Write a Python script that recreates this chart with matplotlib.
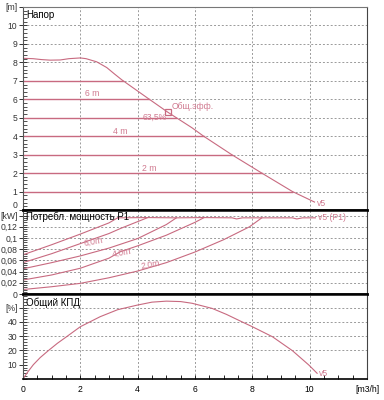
import numpy as np
import matplotlib
matplotlib.use("Agg")
import matplotlib.pyplot as plt
from matplotlib.ticker import FixedLocator, FixedFormatter, MultipleLocator

plt.rcParams['font.family'] = ['Liberation Sans', 'DejaVu Sans']

# head curve (Напор)
q_head = [0, 0.35, 0.65, 0.95, 1.3, 1.6, 2.0, 2.2, 2.57, 2.92, 3.2, 3.45, 3.95, 4.36, 5.05, 5.9, 6.3, 7.28, 8.33, 9.4, 10.17]
h_head = [8.22, 8.2, 8.15, 8.12, 8.13, 8.2, 8.24, 8.2, 8.03, 7.72, 7.36, 7.05, 6.5, 6.05, 5.3, 4.45, 4.0, 3.0, 2.0, 1.0, 0.43]
cp_heads = [1, 2, 3, 4, 5, 6, 7]
cp_labels = {"6 m": (2.4, 6.3), "4 m": (3.4, 4.25), "2 m": (4.4, 2.27)}
best_q, best_h = 5.05, 5.3

# power P1 curves
p_lines = [
    ([0, 1, 2, 3, 3.3], [0.070, 0.088, 0.107, 0.127, 0.136]),
    ([0, 1, 2, 3, 3.4, 4.33], [0.056, 0.072, 0.090, 0.108, 0.117, 0.136]),
    ([0, 1, 2, 3, 4, 5, 5.35], [0.045, 0.056, 0.068, 0.082, 0.099, 0.124, 0.136]),
    ([0, 1, 2, 3, 3.4, 4, 5, 6, 6.3], [0.025, 0.034, 0.046, 0.064, 0.0756, 0.086, 0.105, 0.128, 0.136]),
    ([0, 1, 2, 3, 4, 5, 6, 7, 7.9, 8.33], [0.008, 0.013, 0.019, 0.029, 0.041, 0.056, 0.075, 0.097, 0.12, 0.136]),
]
p_labels = {"6,0m": (2.45, 0.093), "4,0m": (3.45, 0.073), "2,0m": (4.45, 0.052)}
q_pmax = [3.3, 4.33, 5.35, 6.3, 7.3, 7.45, 7.65, 8.33, 9.4, 9.55, 9.75, 10.2]
p_pmax = [0.136, 0.1365, 0.136, 0.1365, 0.136, 0.134, 0.136, 0.136, 0.136, 0.134, 0.136, 0.136]

# efficiency (Общий КПД)
q_eff = [0, 0.15, 0.36, 0.6, 0.88, 1.2, 1.52, 2.0, 2.69, 3.3, 3.98, 4.5, 5.0, 5.5, 5.9, 6.6, 7.1, 7.64, 8.0, 8.7, 9.4, 9.97, 10.26]
eff = [0, 4.5, 10, 15, 19.8, 25, 29.6, 36.6, 43.6, 48.5, 51.7, 53.8, 54.5, 54.2, 53, 49.4, 45.2, 40, 36.6, 29.6, 19.8, 9.8, 4]

line_c = '#c86a80'
text_c = '#d07a90'
grid_c = '#9a9a9a'
fs = 6.2

fig = plt.figure(figsize=(3.84, 4.0), dpi=100)
L, W = 23 / 384, (367 - 23) / 384
ax1 = fig.add_axes([L, 1 - 210 / 400, W, 203 / 400])
ax2 = fig.add_axes([L, 1 - 294 / 400, W, 84 / 400])
ax3 = fig.add_axes([L, 1 - 379 / 400, W, 85 / 400])

yt = [list(range(0, 12)), [0, 0.02, 0.04, 0.06, 0.08, 0.1, 0.12, 0.14], [10, 20, 30, 40, 50]]
yl = [[str(i) for i in range(11)] + ['[m]'],
      ['0', '0,02', '0,04', '0,06', '0,08', '0,1', '0,12', '[kW]'],
      ['10', '20', '30', '40', '[%]']]
ylims = [(0, 11), (0, 0.15), (0, 59.5)]
ymin = [0.2, 0.004, 2]

for ax, t, lab, lim, mn in zip([ax1, ax2, ax3], yt, yl, ylims, ymin):
    ax.set_xlim(0, 12)
    ax.set_ylim(*lim)
    ax.yaxis.set_major_locator(FixedLocator(t))
    ax.yaxis.set_major_formatter(FixedFormatter(lab))
    ax.yaxis.set_minor_locator(MultipleLocator(mn))
    ax.xaxis.set_major_locator(FixedLocator([0, 2, 4, 6, 8, 10, 12]))
    ax.xaxis.set_minor_locator(MultipleLocator(0.5))
    ax.tick_params(axis='y', which='major', direction='inout', length=6, width=0.7,
                   labelsize=fs, pad=1, colors='#333333')
    ax.tick_params(axis='y', which='minor', direction='in', length=3, width=0.6, color='#333333')
    ax.tick_params(axis='x', which='both', direction='in', length=3, width=0.6, labelsize=fs, pad=4)
    for g in [2, 4, 6, 8, 10]:
        ax.axvline(g, color=grid_c, lw=0.7, ls=(0, (2, 2)), zorder=0)
    for g in t[1:]:
        if g < lim[1]:
            ax.axhline(g, color=grid_c, lw=0.7, ls=(0, (2, 2)), zorder=0)
    ax.spines['left'].set_color('#555555')
    ax.spines['left'].set_linewidth(0.8)
    ax.spines['right'].set_color('#444444')
    ax.spines['top'].set_color('#777777')
    ax.spines['top'].set_linewidth(0.8)

for ax in [ax1, ax2]:
    ax.tick_params(axis='x', which='both', labelbottom=False, length=0)
ax1.spines['bottom'].set_linewidth(1.8)
ax2.spines['top'].set_linewidth(1.8)
ax2.spines['top'].set_color('black')
ax2.spines['bottom'].set_linewidth(1.8)
ax3.spines['top'].set_linewidth(1.8)
ax3.spines['top'].set_color('black')
ax3.spines['bottom'].set_linewidth(1.2)
ax3.xaxis.set_major_formatter(FixedFormatter(['0', '2', '4', '6', '8', '10', '[m3/h]']))

# zero label of the head panel sits just above the thick separator
ax1.yaxis.get_major_ticks()[0].label1.set_va('bottom')

# top panel
ax1.plot(q_head, h_head, color=line_c, lw=0.8)
fall = [i for i in range(len(q_head)) if q_head[i] >= 2.2]
qf = np.array(q_head)[fall][::-1]
hf = np.array(h_head)[fall][::-1]
for h in cp_heads:
    ax1.plot([0, np.interp(h, hf, qf)], [h, h], color=line_c, lw=1.0)
for s, (x, y) in cp_labels.items():
    ax1.text(x, y, s, color=text_c, fontsize=fs, ha='center', va='center')
ax1.plot([best_q], [best_h], marker='s', ms=4, mfc='none', mec=line_c, mew=0.9)
ax1.text(best_q + 0.15, best_h + 0.3, 'Общ.эфф.', color=text_c, fontsize=fs, ha='left', va='center')
ax1.text(best_q - 0.45, best_h - 0.3, '63,5%', color=text_c, fontsize=fs, ha='center', va='center')
ax1.text(q_head[-1] + 0.08, h_head[-1] - 0.1, 'v5', color=text_c, fontsize=fs, ha='left', va='center')
ax1.text(0.1, 10.57, 'Напор', fontsize=7, ha='left', va='center')

# middle panel
for q, p in p_lines:
    ax2.plot(q, p, color=line_c, lw=0.8)
ax2.plot(q_pmax, p_pmax, color=line_c, lw=0.8)
for s, (x, y) in p_labels.items():
    ax2.text(x, y, s, color=text_c, fontsize=fs, ha='center', va='center', rotation=10)
ax2.text(q_pmax[-1] + 0.1, p_pmax[-1], 'v5 (P1)', color=text_c, fontsize=fs, ha='left', va='center')
ax2.text(0.1, 0.138, 'Потребл. мощность P1', fontsize=7, ha='left', va='center')

# bottom panel
ax3.plot(q_eff, eff, color=line_c, lw=0.8)
ax3.text(q_eff[-1] + 0.08, eff[-1] - 0.5, 'v5', color=text_c, fontsize=fs, ha='left', va='center')
ax3.text(0.1, 53.4, 'Общий КПД', fontsize=7, ha='left', va='center')

fig.savefig('out.png', dpi=100)
